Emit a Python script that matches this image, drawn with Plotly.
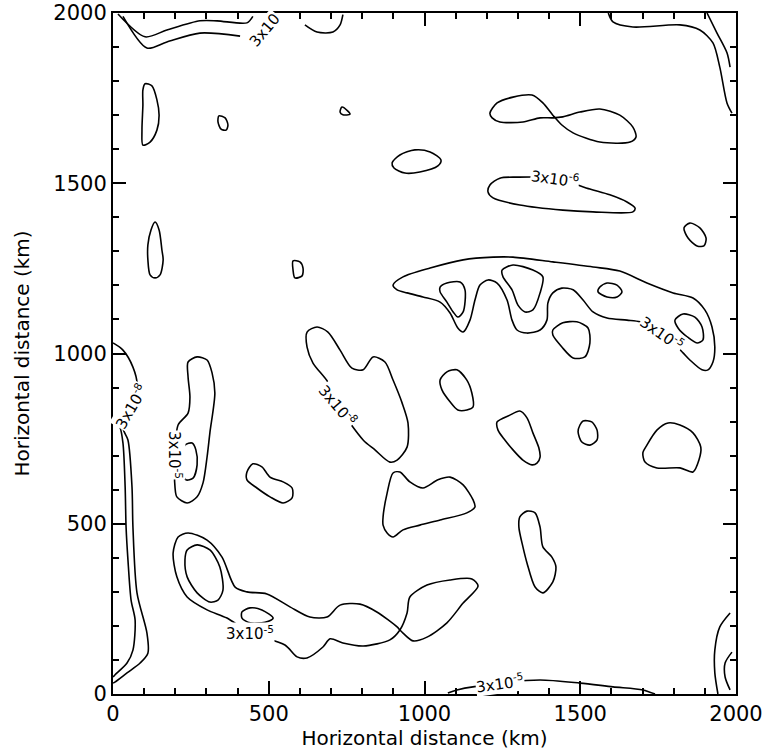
import plotly.graph_objects as go

# ---- contour lines (data units, km) ----
top_left_upper = [(16, 1997), (103, 1930), (173, 1950), (279, 1977), (334, 1977), (430, 1971), (449, 1990)]
top_left_lower = [(32, 1990), (109, 1897), (173, 1915), (279, 1941), (408, 1932)]
top_small_arc = [(616, 1965), (655, 1944), (706, 1944), (729, 1965), (738, 1995)]
top_right_outer = [(1590, 2000), (1605, 1974), (1669, 1959), (1820, 1965), (1884, 1950), (1926, 1912),
                   (1948, 1841), (1971, 1736), (1987, 1706)]
top_right_inner = [(1907, 2000), (1939, 1941), (1971, 1883), (1981, 1841)]
ell_left_top = [(103, 1792), (125, 1786), (141, 1745), (148, 1700), (141, 1656), (119, 1621), (96, 1612),
                (93, 1656), (96, 1730), (96, 1774), (103, 1792)]
blob_d = [(340, 1698), (360, 1692), (369, 1671), (363, 1656), (347, 1659), (337, 1680), (340, 1698)]
blob_e = [(735, 1724), (754, 1712), (761, 1703), (738, 1701), (729, 1709), (735, 1724)]
ell_left_mid = [(135, 1386), (148, 1363), (157, 1304), (161, 1275), (151, 1231), (135, 1222), (119, 1231),
                (112, 1275), (112, 1319), (122, 1363), (135, 1386)]
blob_g = [(578, 1272), (600, 1269), (610, 1251), (607, 1228), (584, 1222), (578, 1245), (578, 1272)]
dumbbell = [(1210, 1706), (1233, 1736), (1284, 1753), (1345, 1759), (1380, 1736), (1412, 1700),
            (1441, 1671), (1477, 1648), (1563, 1621), (1660, 1621), (1679, 1636), (1669, 1665),
            (1627, 1700), (1563, 1718), (1499, 1709), (1444, 1695), (1412, 1692), (1371, 1692),
            (1316, 1680), (1242, 1680), (1217, 1692), (1210, 1706)]
ell_mid_top = [(896, 1560), (921, 1583), (969, 1598), (1018, 1592), (1053, 1568), (1043, 1551),
               (985, 1533), (937, 1530), (902, 1545), (896, 1560)]
long_ell = [(1297, 1518), (1242, 1515), (1210, 1495), (1204, 1474), (1220, 1457), (1306, 1436),
            (1444, 1421), (1541, 1416), (1669, 1416), (1676, 1427), (1650, 1445), (1595, 1466),
            (1531, 1483), (1419, 1515), (1297, 1518)]
ell_right = [(1852, 1383), (1884, 1369), (1904, 1339), (1897, 1316), (1875, 1316), (1846, 1339),
             (1833, 1369), (1852, 1383)]
band = [(899, 1201), (931, 1225), (1018, 1251), (1124, 1275), (1220, 1283), (1284, 1283), (1412, 1269),
        (1541, 1254), (1627, 1242), (1714, 1207), (1798, 1178), (1862, 1163), (1900, 1128), (1923, 1078),
        (1932, 1019), (1926, 975), (1910, 952), (1891, 952), (1852, 981), (1830, 1002), (1798, 1031),
        (1746, 1069), (1692, 1093), (1650, 1098), (1586, 1104), (1541, 1122), (1509, 1157), (1477, 1187),
        (1441, 1192), (1412, 1178), (1396, 1148), (1393, 1098), (1371, 1069), (1329, 1060), (1297, 1069),
        (1281, 1098), (1265, 1157), (1233, 1207), (1204, 1216), (1178, 1201), (1162, 1157), (1146, 1098),
        (1124, 1063), (1107, 1075), (1082, 1119), (1050, 1151), (995, 1166), (944, 1178), (912, 1187),
        (899, 1201)]
band_in1 = [(1050, 1195), (1072, 1207), (1114, 1210), (1130, 1187), (1124, 1122), (1107, 1107),
            (1092, 1122), (1072, 1151), (1050, 1181), (1050, 1195)]
band_in2 = [(1249, 1245), (1284, 1260), (1348, 1245), (1380, 1225), (1371, 1178), (1348, 1128),
            (1323, 1122), (1300, 1142), (1281, 1187), (1252, 1225), (1249, 1245)]
band_in3 = [(1563, 1195), (1586, 1207), (1618, 1201), (1634, 1181), (1618, 1166), (1586, 1166),
            (1557, 1181), (1563, 1195)]
band_in4 = [(1804, 1098), (1830, 1116), (1868, 1107), (1891, 1078), (1894, 1040), (1875, 1031),
            (1843, 1049), (1814, 1075), (1804, 1098)]
blob_m = [(1412, 1069), (1444, 1090), (1489, 1093), (1525, 1075), (1531, 1031), (1515, 990), (1477, 987),
          (1441, 1019), (1412, 1054), (1412, 1069)]
center_blob = [(623, 1063), (655, 1078), (690, 1063), (729, 1010), (767, 957), (803, 952), (835, 990),
               (873, 975), (899, 922), (928, 855), (947, 796), (944, 725), (912, 687), (889, 681),
               (841, 717), (803, 746), (722, 849), (690, 916), (642, 972), (623, 1019), (623, 1063)]
left_blob = [(241, 975), (270, 990), (302, 981), (318, 943), (327, 884), (311, 767), (302, 696),
             (289, 620), (270, 579), (238, 561), (205, 579), (199, 608), (199, 702), (209, 790),
             (241, 825), (247, 872), (241, 931), (241, 975)]
left_blob_in = [(231, 731), (254, 737), (266, 717), (270, 673), (257, 634), (234, 629), (221, 658),
                (221, 702), (231, 731)]
left_edge_a = [(0, 1031), (32, 1010), (64, 960), (77, 908), (55, 849), (32, 781), (48, 746), (61, 608),
               (64, 490), (77, 297), (109, 179), (112, 120), (87, 91), (45, 62), (6, 35), (0, 32)]
left_edge_b = [(0, 811), (22, 784), (32, 737), (39, 608), (42, 490), (48, 394), (58, 276), (71, 217),
               (64, 129), (45, 91), (6, 56), (0, 50)]
blob_q = [(430, 652), (449, 676), (478, 667), (504, 637), (546, 623), (575, 605), (575, 576), (546, 561),
          (504, 579), (462, 605), (430, 629), (430, 652)]
blob_r = [(867, 520), (880, 590), (899, 649), (921, 652), (953, 623), (995, 605), (1043, 629), (1082, 637),
          (1124, 614), (1156, 570), (1162, 549), (1136, 532), (1050, 511), (985, 496), (931, 482),
          (899, 461), (880, 473), (867, 496), (867, 520)]
blob_s = [(1050, 922), (1072, 946), (1104, 952), (1136, 922), (1152, 884), (1156, 843), (1136, 834),
          (1107, 834), (1082, 858), (1056, 893), (1050, 922)]
blob_t = [(1233, 799), (1274, 819), (1306, 831), (1329, 811), (1348, 767), (1367, 723), (1371, 696),
          (1361, 678), (1345, 673), (1316, 687), (1284, 717), (1258, 746), (1236, 775), (1233, 799)]
blob_u = [(1509, 802), (1537, 799), (1554, 775), (1554, 746), (1531, 731), (1505, 740), (1493, 770),
          (1499, 790), (1509, 802)]
blob_v = [(1714, 731), (1746, 775), (1782, 796), (1820, 790), (1862, 767), (1887, 725), (1881, 687),
          (1862, 652), (1820, 664), (1746, 664), (1708, 681), (1701, 708), (1714, 731)]
blob_w = [(1306, 520), (1329, 537), (1355, 532), (1371, 490), (1380, 432), (1409, 402), (1422, 373),
          (1412, 329), (1380, 297), (1355, 314), (1329, 385), (1316, 432), (1303, 490), (1306, 520)]
figure8 = [(366, 223), (302, 247), (238, 285), (205, 344), (193, 414), (209, 461), (241, 473), (302, 452),
           (350, 402), (392, 314), (430, 300), (494, 294), (568, 256), (632, 226), (687, 226), (729, 261),
           (793, 264), (847, 241), (912, 197), (921, 188), (931, 179), (963, 156), (1008, 167), (1072, 209),
           (1124, 267), (1172, 317), (1152, 338), (1082, 335), (1008, 320), (953, 285), (944, 238),
           (921, 188), (889, 159), (803, 141), (738, 150), (697, 162), (674, 138), (623, 106), (591, 109),
           (552, 144), (440, 179), (366, 223)]
figure8_in = [(238, 423), (270, 438), (311, 423), (343, 373), (353, 305), (337, 276), (311, 270),
              (270, 297), (238, 344), (231, 394), (238, 423)]
small_low = [(414, 241), (440, 253), (478, 247), (514, 223), (488, 211), (440, 209), (414, 223), (414, 241)]
bottom_line = [(1075, 3), (1104, 12), (1242, 32), (1371, 41), (1499, 32), (1605, 21), (1701, 12), (1740, 0)]
corner_outer = [(1981, 238), (1948, 197), (1932, 129), (1932, 62), (1942, 0)]
corner_inner = [(1987, 123), (1965, 91), (1965, 50), (1981, 12)]

contours = [top_left_upper, top_left_lower, top_small_arc, top_right_outer, top_right_inner,
            ell_left_top, blob_d, blob_e, ell_left_mid, blob_g, dumbbell, ell_mid_top, long_ell,
            ell_right, band, band_in1, band_in2, band_in3, band_in4, blob_m, center_blob, left_blob,
            left_blob_in, left_edge_a, left_edge_b, blob_q, blob_r, blob_s, blob_t, blob_u, blob_v,
            blob_w, figure8, figure8_in, small_low, bottom_line, corner_outer, corner_inner]

# ---- contour labels ----
label_x = [488, 1419, 1762, 722, 199, 58, 440, 1242]
label_y = [1950, 1515, 1060, 849, 702, 845, 179, 32]
label_text = ["3x10", "3x10<sup>-6</sup>", "3x10<sup>-5</sup>", "3x10<sup>-8</sup>", "3x10<sup>-5</sup>",
              "3x10<sup>-8</sup>", "3x10<sup>-5</sup>", "3x10<sup>-5</sup>"]
label_angle = [-50, 8, 35, 50, 90, -60, 0, -8]

tick_vals = [0, 500, 1000, 1500, 2000]
tick_text = ["0", "500", "1000", "1500", "2000"]

fig = go.Figure()
for pts in contours:
    fig.add_trace(go.Scatter(
        x=[p[0] for p in pts], y=[p[1] for p in pts], mode="lines",
        line=dict(color="black", width=1.6, shape="spline", smoothing=0.8),
        hoverinfo="skip", showlegend=False))

for lx, ly, lt, la in zip(label_x, label_y, label_text, label_angle):
    fig.add_annotation(x=lx, y=ly, text=lt, textangle=la, showarrow=False,
                       font=dict(family="DejaVu Sans", size=15, color="black"),
                       bgcolor="white", borderpad=0)

axis_common = dict(range=[0, 2000], showgrid=False, zeroline=False, showline=True,
                   linecolor="black", linewidth=2, mirror="allticks", ticks="inside",
                   ticklen=13, tickwidth=1.5, tickcolor="black", automargin=False,
                   tickvals=tick_vals, ticktext=tick_text,
                   tickfont=dict(family="DejaVu Sans", size=21, color="black"),
                   minor=dict(dtick=100, ticks="inside", ticklen=6, tickwidth=1.5, tickcolor="black"))

fig.update_layout(
    width=764, height=750, plot_bgcolor="white", paper_bgcolor="white",
    margin=dict(l=113, r=28, t=13, b=56),
    xaxis=dict(**axis_common, title=dict(text="Horizontal distance (km)", standoff=0,
                                         font=dict(family="DejaVu Sans", size=20, color="black"))),
    yaxis=dict(**axis_common, title=dict(text="Horizontal distance (km)", standoff=18,
                                         font=dict(family="DejaVu Sans", size=20, color="black"))),
)

fig.write_html("out.html")
